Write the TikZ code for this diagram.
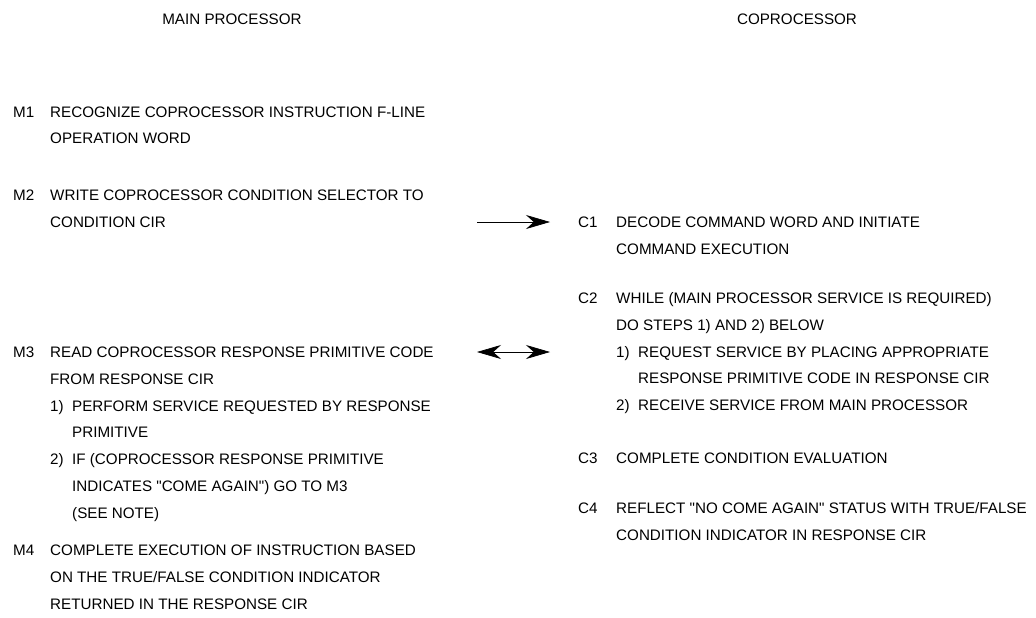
\documentclass[tikz,border=0pt]{standalone}
\usepackage{fontspec}
\setmainfont{Liberation Sans}
\newfontfamily\plainfont{Liberation Sans}
\usetikzlibrary{arrows.meta}
\tikzset{
  col head/.style={anchor=base, inner sep=0pt},
  step label/.style={anchor=base west, inner sep=0pt},
  % base of a multi-line node is its last line
  step text/.style={anchor=base west, inner sep=0pt, align=left},
  msg arrow/.style={line width=0.7pt, -{Stealth[length=24pt, width=14pt]}},
  msg both/.style={line width=0.7pt, {Stealth[length=24pt, width=14pt]}-{Stealth[length=24pt, width=14pt]}}
}
\newcommand{\subno}[1]{\makebox[22pt][l]{#1}}
\newcommand{\subgap}{\hspace*{22pt}}
\newcommand{\qq}{{\plainfont\symbol{34}}}

\begin{document}
\begin{tikzpicture}[x=1pt, y=-1pt, font=\fontsize{15.2}{26.8}\selectfont]
  \useasboundingbox (0,0) rectangle (1036,618);
  \node[col head] (mainhead) at (232,24.5) {MAIN PROCESSOR};
  \node[col head] (cophead) at (797,25) {COPROCESSOR};

  % main processor side
  \node[step label] (m1) at (13,117) {M1};
  \node[step text] (m1t) at (50,143.8) {RECOGNIZE COPROCESSOR INSTRUCTION F-LINE\\OPERATION WORD};
  \node[step label] (m2) at (13,200.5) {M2};
  \node[step text] (m2t) at (50,227.3) {WRITE COPROCESSOR CONDITION SELECTOR TO\\CONDITION CIR};
  \node[step label] (m3) at (13,357.5) {M3};
  \node[step text] (m3t) at (50,518.3) {READ COPROCESSOR RESPONSE PRIMITIVE CODE\\FROM RESPONSE CIR\\
    \subno{1)}PERFORM SERVICE REQUESTED BY RESPONSE\\\subgap PRIMITIVE\\
    \subno{2)}IF (COPROCESSOR RESPONSE PRIMITIVE\\\subgap INDICATES \qq COME AGAIN\qq) GO TO M3\\\subgap (SEE NOTE)};
  \node[step label] (m4) at (13,555.5) {M4};
  \node[step text] (m4t) at (50,609.1) {COMPLETE EXECUTION OF INSTRUCTION BASED\\ON THE TRUE/FALSE CONDITION INDICATOR\\RETURNED IN THE RESPONSE CIR};

  % coprocessor side
  \node[step label] (c1) at (578,227.5) {C1};
  \node[step text] (c1t) at (616,254.3) {DECODE COMMAND WORD AND INITIATE\\COMMAND EXECUTION};
  \node[step label] (c2) at (578,303.5) {C2};
  \node[step text] (c2t) at (616,410.7) {WHILE (MAIN PROCESSOR SERVICE IS REQUIRED)\\DO STEPS 1) AND 2) BELOW\\
    \subno{1)}REQUEST SERVICE BY PLACING APPROPRIATE\\\subgap RESPONSE PRIMITIVE CODE IN RESPONSE CIR\\
    \subno{2)}RECEIVE SERVICE FROM MAIN PROCESSOR};
  \node[step label] (c3) at (578,463.5) {C3};
  \node[step text] (c3t) at (616,463.5) {COMPLETE CONDITION EVALUATION};
  \node[step label] (c4) at (578,513.5) {C4};
  \node[step text] (c4t) at (616,540.3) {REFLECT \qq NO COME AGAIN\qq\ STATUS WITH TRUE/FALSE\\CONDITION INDICATOR IN RESPONSE CIR};

  \coordinate (w1) at (477,222);
  \coordinate (r1) at (550,222);
  \coordinate (w2) at (477,352);
  \coordinate (r2) at (550,352);
  \draw[msg arrow] (w1) -- (r1);
  \draw[msg both] (w2) -- (r2);
\end{tikzpicture}
\end{document}
